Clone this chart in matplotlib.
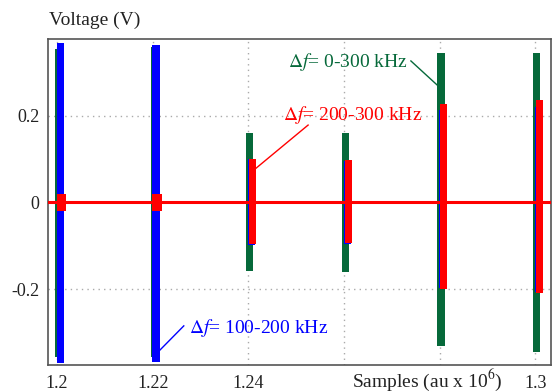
import numpy as np
import matplotlib
matplotlib.use('Agg')
import matplotlib.pyplot as plt

plt.rcParams['font.family'] = ['Liberation Serif', 'DejaVu Serif']
plt.rcParams['mathtext.fontset'] = 'stix'

# burst start times (x 10^6 samples) and envelope peaks (V)
burst_t = [1.20, 1.22, 1.24, 1.26, 1.28, 1.30]
green_hi = [0.354, 0.358, 0.160, 0.160, 0.343, 0.343]
green_lo = [-0.355, -0.355, -0.157, -0.159, -0.331, -0.343]
blue_hi = [0.367, 0.363, 0.100, 0.095, 0.213, 0.220]
blue_lo = [-0.369, -0.366, -0.098, -0.095, -0.196, -0.205]
red_hi = [0.020, 0.020, 0.100, 0.098, 0.226, 0.235]
red_lo = [-0.020, -0.020, -0.095, -0.093, -0.200, -0.208]

x_ticks = [1.20, 1.22, 1.24, 1.26, 1.28, 1.30]
x_ticklabels = ['1.2', '1.22', '1.24', '', '', '1.3']
y_ticks = [-0.2, 0, 0.2]
y_ticklabels = ['-0.2', '0', '0.2']

green = '#06693a'
blue = '#0000ff'
red = '#ff0000'

fig = plt.figure(figsize=(5.53, 3.92), dpi=100)
ax = fig.add_axes([48/553, 27/392, 503/553, 326/392])

t = np.array(burst_t)

def bursts(offset, width, hi, lo, color, z):
    hi = np.array(hi)
    lo = np.array(lo)
    ax.bar(t + offset, hi - lo, bottom=lo, width=width, color=color,
           linewidth=0, zorder=z)

# flat baseline of each record
ax.axhline(0, color=green, lw=2, zorder=2)
ax.axhline(0, color=blue, lw=2, zorder=3)
bursts(0.0003, 0.0015, green_hi, green_lo, green, 2)
bursts(0.0007, 0.0015, blue_hi, blue_lo, blue, 3)
widths = np.where(np.array(red_hi) < 0.05, 0.002, 0.0015)
ax.bar(t + 0.0009, np.array(red_hi) - np.array(red_lo), bottom=red_lo,
       width=widths, color=red, linewidth=0, zorder=4)
ax.axhline(0, color=red, lw=2.2, zorder=4)

ax.set_xlim(1.1981, 1.3033)
ax.set_ylim(-0.374, 0.376)
ax.set_xticks(x_ticks)
ax.set_xticklabels(x_ticklabels)
ax.set_yticks(y_ticks)
ax.set_yticklabels(y_ticklabels)
ax.tick_params(length=0, labelsize=13, colors='#222222')
ax.tick_params(axis='x', pad=7)
ax.tick_params(axis='y', pad=6)
ax.grid(True, color='#aaaaaa', linestyle=(0, (1, 3)), linewidth=1)
ax.set_axisbelow(True)
for s in ax.spines.values():
    s.set_color('#555555')
    s.set_linewidth(1.2)

# annotations
ax.text(1.2734, 0.323, r'$\Delta f$= 0-300 kHz', color=green, fontsize=14,
        ha='right', va='center')
ax.plot([1.2740, 1.2797], [0.3255, 0.268], color=green, lw=1)
ax.text(1.2763, 0.201, r'$\Delta f$= 200-300 kHz', color=red, fontsize=14,
        ha='right', va='center')
ax.plot([1.2525, 1.2412], [0.178, 0.075], color=red, lw=1)
ax.text(1.2276, -0.289, r'$\Delta f$= 100-200 kHz', color=blue, fontsize=14,
        ha='left', va='center')
ax.plot([1.2265, 1.2213], [-0.284, -0.342], color=blue, lw=1)

fig.text(49/553, 1 - 20/392, 'Voltage (V)', fontsize=14, color='#222222',
         ha='left', va='center')
fig.text(352/553, 1 - 380/392, r'Samples (au x 10$^{6}$)', fontsize=14,
         color='#222222', ha='left', va='center')

fig.savefig('out.png', dpi=100)
